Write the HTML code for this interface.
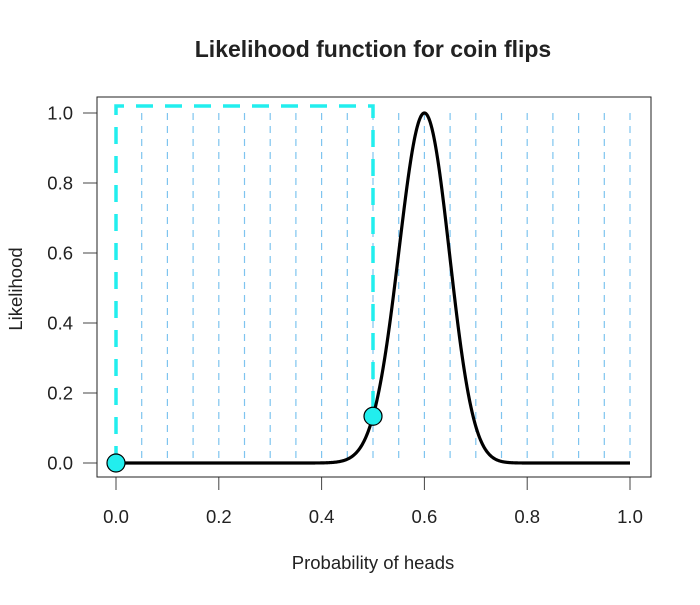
<!DOCTYPE html>
<html><head><meta charset="utf-8"><style>
body{margin:0;background:#fff}
svg text{font-family:"Liberation Sans",Arial,sans-serif;fill:#222}
</style></head><body>
<svg id="c" width="700" height="600" xmlns="http://www.w3.org/2000/svg">
<rect width="700" height="600" fill="#fff"/>
<text x="373" y="57" font-size="23" font-weight="bold" text-anchor="middle">Likelihood function for coin flips</text>
<text x="373" y="569" font-size="18.5" text-anchor="middle">Probability of heads</text>
<text transform="translate(22,289) rotate(-90)" font-size="18.5" text-anchor="middle">Likelihood</text>
<g id="grid"></g><g id="guides"></g><g id="curve"></g><g id="axes"></g><g id="pts"></g>
<rect x="97" y="97" width="554" height="380" fill="none" stroke="#222" stroke-width="1"/>
</svg>
<script>
const xTicks=[0,0.2,0.4,0.6,0.8,1.0];
const yTicks=[0,0.2,0.4,0.6,0.8,1.0];
const gridX=[0.05,0.1,0.15,0.2,0.25,0.3,0.35,0.4,0.45,0.5,0.55,0.6,0.65,0.7,0.75,0.8,0.85,0.9,0.95,1.0];
const heads=[60];
const flips=[100];
const pointX=[0,0.5];
const guideTop=[1.02];
const NS="http://www.w3.org/2000/svg";
const X=v=>116+v*514, Y=v=>463-v*350;
function mk(t,a,p){const e=document.createElementNS(NS,t);for(const k in a)e.setAttribute(k,a[k]);document.getElementById(p).appendChild(e);return e;}
const h=heads[0],n=flips[0],ph=h/n;
const lik=p=>{if(p<=0||p>=1)return 0;return Math.exp(h*Math.log(p/ph)+(n-h)*Math.log((1-p)/(1-ph)));};
gridX.forEach(g=>{const e=mk('line',{x1:X(g),x2:X(g),y1:Y(1),y2:Y(0),stroke:'#7ec4ef','stroke-width':1.2,'stroke-dasharray':'7,6'},'grid');

});
const gt=guideTop[0],px=pointX[1],py=lik(px);
const gp=mk('path',{d:`M${X(0)},${Y(0)}V${Y(gt)}H${X(px)}V${Y(py)}`,fill:'none',stroke:'#22eeee','stroke-width':3.5,'stroke-dasharray':'17,12'},'guides');


let d='';for(let i=0;i<=1000;i++){const p=i/1000;d+=(i?'L':'M')+X(p).toFixed(2)+','+Y(lik(p)).toFixed(2);}
const cv=mk('path',{d:d,fill:'none',stroke:'#000','stroke-width':3.2},'curve');


xTicks.forEach(t=>{mk('line',{x1:X(t),x2:X(t),y1:477,y2:490,stroke:'#444'},'axes');
const tx=mk('text',{x:X(t),y:523,'font-size':18.5,'text-anchor':'middle'},'axes');tx.textContent=t.toFixed(1);

});
yTicks.forEach(t=>{mk('line',{x1:83,x2:97,y1:Y(t),y2:Y(t),stroke:'#444'},'axes');
const tx=mk('text',{x:73,y:Y(t)+6.5,'font-size':18.5,'text-anchor':'end'},'axes');tx.textContent=t.toFixed(1);

});
pointX.forEach(p=>{const c=mk('circle',{cx:X(p),cy:Y(lik(p)),r:9,fill:'#22eeee',stroke:'#000','stroke-width':1.2},'pts');

});
</script>
</body></html>
